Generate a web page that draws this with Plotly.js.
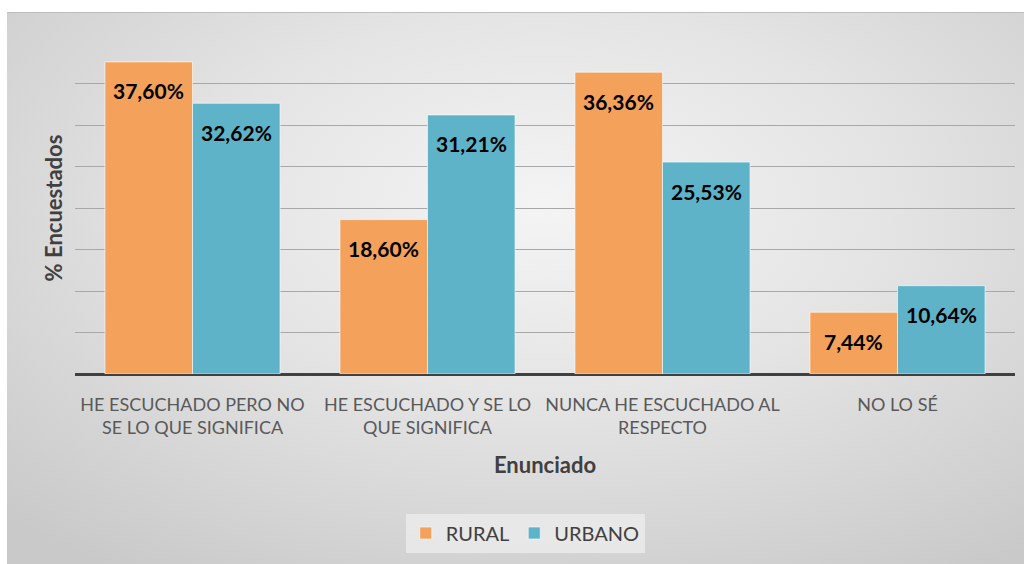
<!DOCTYPE html>
<html>
<head>
<meta charset="utf-8">
<script src="https://cdn.plot.ly/plotly-3.0.1.min.js"></script>
<style>
  html, body { margin:0; padding:0; background:#ffffff; }
  #wrap { position:relative; width:1031px; height:564px; }
  #bg { position:absolute; left:7px; top:12px; width:1017px; height:552px;
        border-top:1px solid #bdbdbd;
        background: radial-gradient(ellipse 75% 80% at 53% 35%, #f4f4f4 0%, #e4e4e4 45%, #c9c9c9 100%); }
  #chart { position:absolute; left:0; top:0; width:1031px; height:564px; }
</style>
</head>
<body>
<div id="wrap">
  <div id="bg"></div>
  <div id="chart"></div>
</div>
<script>
const categories = [
  "HE ESCUCHADO PERO NO<br>SE LO QUE SIGNIFICA",
  "HE ESCUCHADO Y SE LO<br>QUE SIGNIFICA",
  "NUNCA HE ESCUCHADO AL<br>RESPECTO",
  "NO LO SÉ"
];
const rural = [37.60, 18.60, 36.36, 7.44];
const urbano = [32.62, 31.21, 25.53, 10.64];
const seriesNames = ["RURAL", "URBANO"];
const colors = ["#F3A15B", "#5FB3C9"];

const labelFont = {family: "Lato, 'Open Sans', sans-serif", size: 21, color: "#000000", weight: 700};

function barTrace(name, values, color) {
  return {
    type: "bar",
    name: name,
    x: categories,
    y: values,
    marker: {color: color, line: {color: "rgba(255,255,255,0.6)", width: 1}},
    hoverinfo: "skip"
  };
}

const data = [
  barTrace(seriesNames[0], rural, colors[0]),
  barTrace(seriesNames[1], urbano, colors[1])
];

function fmt(v) { return v.toFixed(2).replace(".", ",") + "%"; }

const annotations = [];
[rural, urbano].forEach(function (vals, s) {
  vals.forEach(function (v, i) {
    annotations.push({
      x: categories[i], y: v, xref: "x", yref: "y",
      xshift: s === 0 ? -44 : 44, yshift: -29,
      text: fmt(v), showarrow: false,
      xanchor: "center", yanchor: "middle",
      font: labelFont
    });
  });
});

const layout = {
  width: 1031,
  height: 564,
  margin: {l: 75, r: 16, t: 42, b: 190},
  paper_bgcolor: "rgba(0,0,0,0)",
  plot_bgcolor: "rgba(0,0,0,0)",
  separators: ",.",
  barmode: "group",
  bargap: 0.255,
  bargroupgap: 0,
  font: {family: "Lato, 'Open Sans', sans-serif", color: "#595959"},
  xaxis: {
    type: "category",
    tickfont: {size: 18, color: "#595959"},
    ticks: "",
    showline: false,
    ticklabelstandoff: 18,
    title: {text: "Enunciado", font: {size: 22, color: "#404040", weight: 700}, standoff: 20}
  },
  yaxis: {
    range: [0, 40],
    dtick: 5,
    showticklabels: false,
    ticks: "",
    showgrid: true,
    gridcolor: "#a8a8a8",
    gridwidth: 1,
    zeroline: true,
    zerolinecolor: "#404040",
    zerolinewidth: 3,
    title: {text: "% Encuestados", font: {size: 22, color: "#404040", weight: 700}, standoff: 5}
  },
  annotations: annotations,
  showlegend: true,
  legend: {
    orientation: "h",
    x: 0.479, xanchor: "center",
    y: -0.479, yanchor: "middle",
    bgcolor: "rgba(238,238,238,0.75)",
    borderwidth: 0,
    font: {size: 20, color: "#404040"},
    itemwidth: 30,
    traceorder: "normal"
  }
};

Plotly.newPlot("chart", data, layout, {displayModeBar: false, staticPlot: true});
</script>
</body>
</html>
